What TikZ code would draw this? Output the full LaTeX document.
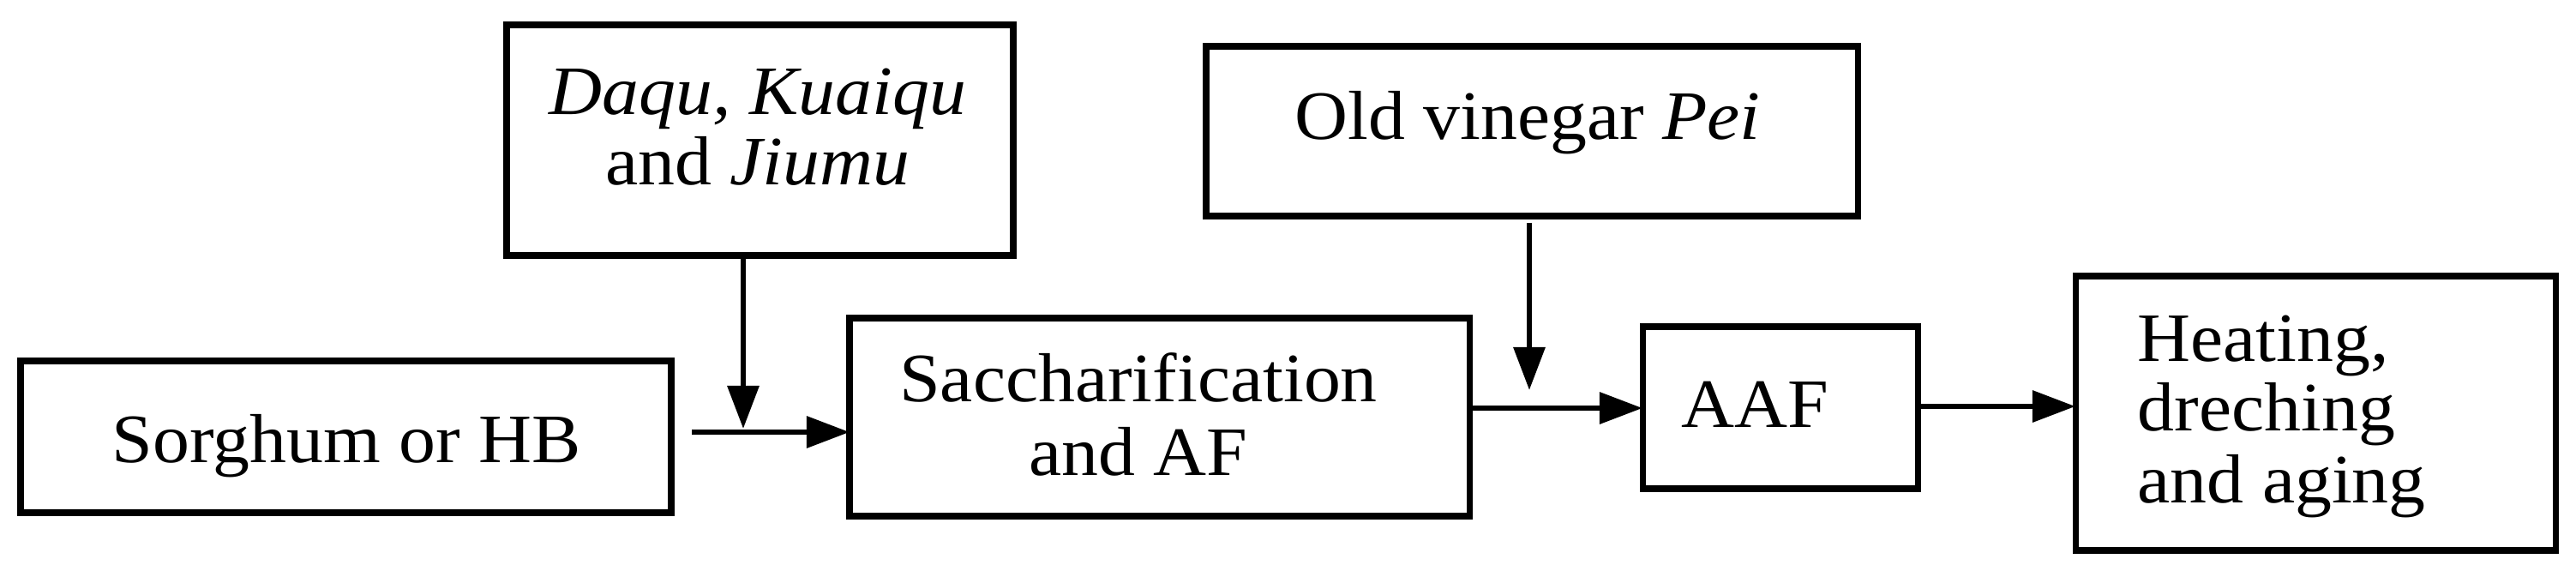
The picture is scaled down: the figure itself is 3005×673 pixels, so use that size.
\documentclass[tikz,border=0pt]{standalone}
\usepackage{fontspec}
\setmainfont{Liberation Serif}
\usetikzlibrary{arrows.meta}
\newcommand{\SX}[1]{\scalebox{1.22}[1.15]{#1}}
\begin{document}
\begin{tikzpicture}[x=0.01cm,y=-0.01cm,
  box/.style={draw,line width=2pt},
  arr/.style={line width=1.8pt,-{Triangle[length=0.5cm,width=0.36cm]}},
  txt/.style={inner sep=0pt,font=\fontsize{20}{24}\selectfont}]
\useasboundingbox (0,0) rectangle (3005,673);
\draw[box] (24,421) rectangle (783,598);
\draw[box] (591,29) rectangle (1182,298);
\draw[box] (991,371) rectangle (1714,602);
\draw[box] (1407,54) rectangle (2167,252);
\draw[box] (1916,381) rectangle (2237,570);
\draw[box] (2421,322) rectangle (2981,642);
\node[txt,anchor=base] (t1) at (404,539) {\SX{Sorghum or HB}};
\node[txt,anchor=base] (t2a) at (884,134) {\SX{\itshape Daqu, Kuaiqu}};
\node[txt,anchor=base] (t2b) at (884,216) {\SX{and \textit{Jiumu}}};
\node[txt,anchor=base] (t3a) at (1328,468) {\SX{Saccharification}};
\node[txt,anchor=base] (t3b) at (1328,554) {\SX{and AF}};
\node[txt,anchor=base] (t4) at (1782,163) {\SX{Old vinegar \textit{Pei}}};
\node[txt,anchor=base west] (t5) at (1961,498) {\SX{AAF}};
\node[txt,anchor=base west] (t6a) at (2493,421) {\SX{Heating,}};
\node[txt,anchor=base west] (t6b) at (2493,502) {\SX{dreching}};
\node[txt,anchor=base west] (t6c) at (2493,586) {\SX{and aging}};
\coordinate (a1s) at (807,504); \coordinate (a1e) at (991,504);
\coordinate (v1s) at (867,298); \coordinate (v1e) at (867,500);
\coordinate (a2s) at (1714,476); \coordinate (a2e) at (1916,476);
\coordinate (v2s) at (1784,260); \coordinate (v2e) at (1784,455);
\coordinate (a3s) at (2237,474); \coordinate (a3e) at (2421,474);
\draw[arr] (a1s) -- (a1e);
\draw[arr] (v1s) -- (v1e);
\draw[arr] (a2s) -- (a2e);
\draw[arr] (v2s) -- (v2e);
\draw[arr] (a3s) -- (a3e);
\end{tikzpicture}
\end{document}
